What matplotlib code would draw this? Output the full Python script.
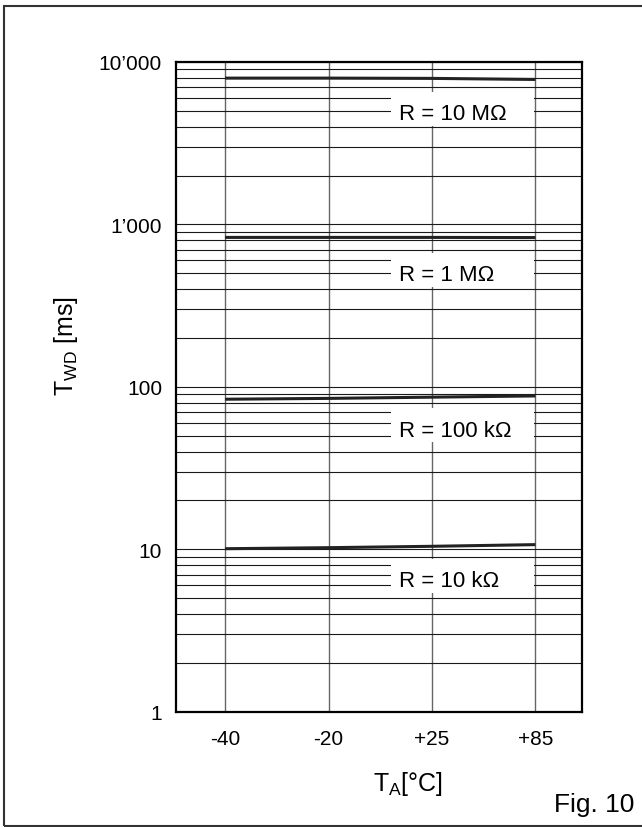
import matplotlib
matplotlib.use("Agg")
import matplotlib.pyplot as plt
from matplotlib.patches import Rectangle
from matplotlib.ticker import FixedLocator, LogLocator, NullFormatter

plt.rcParams["font.family"] = ["Liberation Sans", "DejaVu Sans"]
plt.rcParams["mathtext.fontset"] = "custom"
plt.rcParams["mathtext.rm"] = "Liberation Sans"
plt.rcParams["mathtext.it"] = "Liberation Sans"

# data
temps = ["-40", "-20", "+25", "+85"]
t_10M = [7950, 7950, 7920, 7800]
t_1M = [832, 832, 832, 830]
t_100k = [84, 85, 86.5, 88]
t_10k = [10.1, 10.25, 10.45, 10.7]
series = [t_10M, t_1M, t_100k, t_10k]
r_labels = ["R = 10 MΩ", "R = 1 MΩ", "R = 100 kΩ", "R = 10 kΩ"]
label_y = [4790, 492, 54.3, 6.44]
ytick_vals = [1, 10, 100, 1000, 10000]
ytick_labels = ["1", "10", "100", "1’000", "10’000"]

x = list(range(len(temps)))

fig = plt.figure(figsize=(6.42, 8.28), dpi=100)
ax = fig.add_axes([0.274, 0.139, 0.6325, 0.785])

ax.set_yscale("log")
ax.set_ylim(1, 10000)
ax.set_xlim(-0.475, 3.45)

ax.set_axisbelow(True)
ax.yaxis.set_major_locator(FixedLocator(ytick_vals))
ax.set_yticklabels(ytick_labels)
ax.yaxis.set_minor_locator(LogLocator(base=10, subs=range(2, 10)))
ax.yaxis.set_minor_formatter(NullFormatter())
ax.set_xticks(x)
ax.set_xticklabels(temps)
ax.tick_params(axis="both", which="both", length=0, labelsize=15)
ax.tick_params(axis="y", pad=10)
ax.tick_params(axis="x", pad=12)

ax.grid(axis="y", which="both", color="#1a1a1a", lw=0.8)
ax.grid(axis="x", which="major", color="#666666", lw=1.0)

for s in ax.spines.values():
    s.set_linewidth(1.6)
    s.set_color("black")

for vals in series:
    ax.plot(x, vals, color="#222222", lw=2.2, solid_capstyle="butt", zorder=2)

# white label boxes cutting the grid
for lab, y in zip(r_labels, label_y):
    ax.add_patch(Rectangle((1.6, y / 1.186), 1.39, y * 1.365 - y / 1.186,
                           facecolor="white", edgecolor="none", zorder=2.5))
    ax.text(1.68, y, lab, ha="left", va="center", fontsize=16, zorder=3)

ax.set_ylabel(r"$\mathrm{T_{WD}}$ [ms]", fontsize=18)
ax.yaxis.set_label_coords(-0.236, 0.565)
ax.set_xlabel(r"$\mathrm{T_A}$[°C]", fontsize=18)
ax.xaxis.set_label_coords(0.571, -0.088)

fig.text(0.9875, 0.0278, "Fig. 10", ha="right", va="center", fontsize=19)

fig.add_artist(Rectangle((4 / 642, 1 / 828), 1.0, 1 - 8 / 828,
                         transform=fig.transFigure, fill=False,
                         edgecolor="#333333", lw=1.5, clip_on=False))

fig.savefig("out.png", dpi=100)
